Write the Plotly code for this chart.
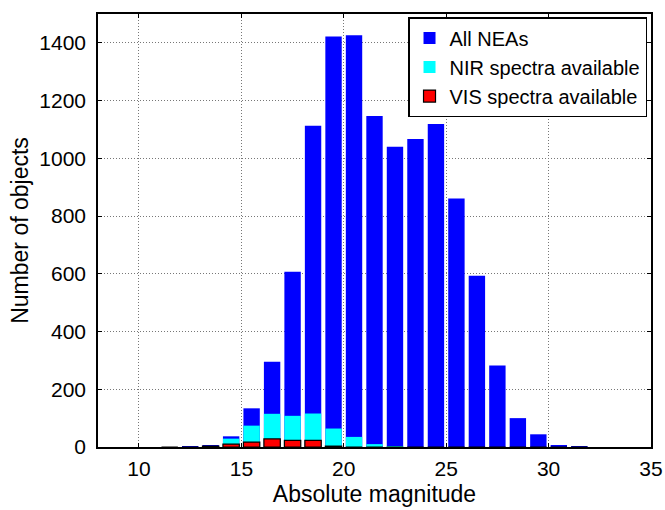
import plotly.graph_objects as go

# Bin centres (absolute magnitude H)
mag_bins = [11.5, 12.5, 13.5, 14.5, 15.5, 16.5, 17.5, 18.5, 19.5, 20.5, 21.5,
            22.5, 23.5, 24.5, 25.5, 26.5, 27.5, 28.5, 29.5, 30.5, 31.5]
all_neas = [0, 1, 5, 37, 134, 295, 607, 1113, 1422, 1426, 1147,
            1040, 1067, 1119, 861, 593, 282, 100, 44, 4, 1]
nir_spectra = [0, 0, 2, 29, 74, 115, 108, 116, 64, 35, 10,
               2, 0, 0, 0, 0, 0, 0, 0, 0, 0]
vis_spectra = [0, 0, 3, 10, 17, 28, 23, 23, 3, 0, 0,
               0, 0, 0, 0, 0, 0, 0, 0, 0, 0]

x_ticks = [10, 15, 20, 25, 30, 35]
y_ticks = [0, 200, 400, 600, 800, 1000, 1200, 1400]

font_family = "Liberation Sans, Arial, Helvetica, sans-serif"

fig = go.Figure()
fig.add_trace(go.Bar(x=mag_bins, y=all_neas, name="All NEAs", width=0.8,
                     marker=dict(color="#0000FF", line=dict(width=0))))
fig.add_trace(go.Bar(x=mag_bins, y=nir_spectra, name="NIR spectra available", width=0.8,
                     marker=dict(color="#00FFFF", line=dict(width=0))))
fig.add_trace(go.Bar(x=mag_bins, y=vis_spectra, name="VIS spectra available", width=0.8,
                     marker=dict(color="#FF0000", line=dict(color="black", width=1.2))))

axis_common = dict(
    showline=True, linecolor="black", linewidth=1.5, mirror="allticks",
    ticks="inside", ticklen=4, tickwidth=1, tickcolor="black",
    showgrid=True, gridcolor="#777777", griddash="1px,2px", gridwidth=1,
    zeroline=False, automargin=False,
    tickfont=dict(family=font_family, size=21, color="black"),
)

fig.update_layout(
    width=665, height=510,
    barmode="overlay",
    paper_bgcolor="white", plot_bgcolor="white",
    margin=dict(l=98, r=14, t=14, b=63),
    font=dict(family=font_family, size=22, color="black"),
    showlegend=True,
    legend=dict(x=0.9928, y=0.993, xanchor="right", yanchor="top",
                bgcolor="white", bordercolor="black", borderwidth=1.5,
                font=dict(family=font_family, size=20, color="black"),
                tracegroupgap=0, itemwidth=30),
    xaxis=dict(range=[8, 35], tickvals=x_ticks, ticktext=[str(v) for v in x_ticks],
               ticklabelstandoff=2,
               title=dict(text="Absolute magnitude", standoff=7,
                          font=dict(family=font_family, size=23)),
               **axis_common),
    yaxis=dict(range=[0, 1500], tickvals=y_ticks, ticktext=[str(v) for v in y_ticks],
               ticklabelstandoff=6,
               title=dict(text="Number of objects", standoff=4,
                          font=dict(family=font_family, size=23)),
               **axis_common),
)

# remove the default 8px page margin so the figure fills the window exactly
fig.write_html("out.html",
               config={"displayModeBar": False},
               post_script="document.body.style.margin='0px';document.body.style.overflow='hidden';")
